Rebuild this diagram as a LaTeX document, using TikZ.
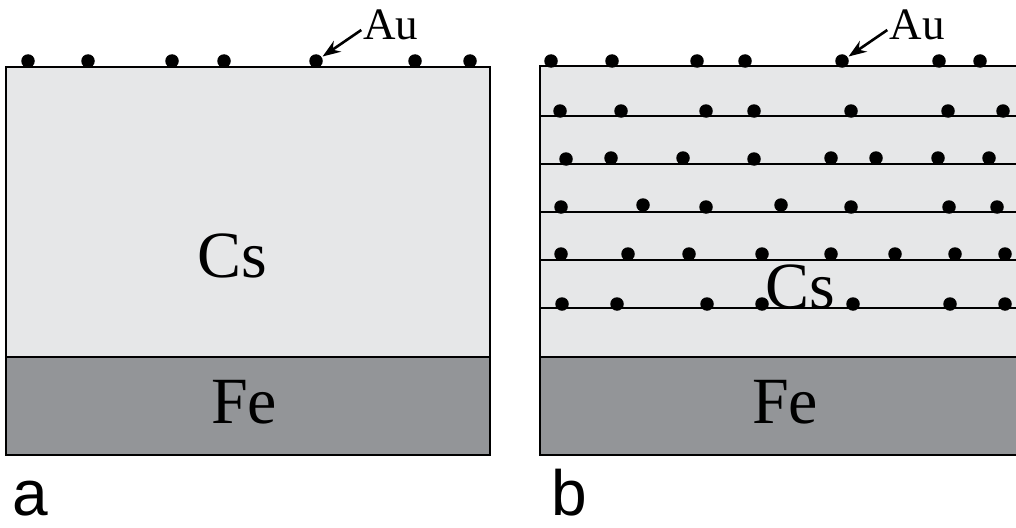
\documentclass[tikz,border=0pt]{standalone}
\usepackage{fontspec}
\setmainfont{Liberation Serif}
\setsansfont{Liberation Sans}
\usetikzlibrary{arrows.meta}
\definecolor{csgray}{RGB}{230,231,232}
\definecolor{fegray}{RGB}{147,149,152}
\begin{document}
\begin{tikzpicture}[x=1pt,y=-1pt,
  layer/.style={draw=black,line width=2pt},
  atom/.style={circle,fill=black,inner sep=0pt,minimum size=13.5pt},
  elem/.style={font=\fontsize{66}{68}\selectfont,inner sep=0pt,anchor=base},
  aulab/.style={font=\fontsize{45}{47}\selectfont,inner sep=0pt,anchor=base},
  panel/.style={font=\sffamily\fontsize{64}{66}\selectfont,inner sep=0pt,anchor=base west},
  pointer/.style={line width=2.6pt,-{Stealth[length=18pt,width=13pt]},shorten >=1pt},
  sheet/.style={line width=2pt}]
\useasboundingbox (0,0) rectangle (1016,527);
% panel a
\fill[csgray] (6,67) rectangle (490,357);
\fill[fegray] (6,357) rectangle (490,455);
\draw[layer] (6,67) rectangle (490,455);
\draw[layer] (6,357) -- (490,357);
\foreach \x [count=\i] in {28,88,172,224,316,415,470}
  \node[atom] (la\i) at (\x,61) {};
\node[elem] (csa) at (232,277) {Cs};
\node[elem] (fea) at (244,423) {Fe};
\node[aulab] (aua) at (391,40) {Au};
\draw[pointer] ([xshift=-2pt,yshift=10pt]aua.base west) -- (la5);
\node[panel] (pa) at (12,515) {a};
% panel b
\fill[csgray] (540,66) rectangle (1020,357);
\fill[fegray] (540,357) rectangle (1020,455);
\draw[layer] (1020,66) -- (540,66) -- (540,455) -- (1020,455);
\draw[layer] (540,357) -- (1020,357);
\foreach \y [count=\j] in {116,164,212,260,308}
  \draw[sheet] (540,\y) coordinate (s\j) -- (1020,\y);
\foreach \x [count=\i] in {551,612,697,745,842,939,980}
  \node[atom] (b0\i) at (\x,61) {};
\foreach \x [count=\i] in {560,621,706,754,851,948,1003}
  \node[atom] (b1\i) at (\x,111) {};
\foreach \x/\yy [count=\i] in {566/159,611/158,683/158,754/159,831/158,876/158,938/158,989/158}
  \node[atom] (b2\i) at (\x,\yy) {};
\foreach \x/\yy [count=\i] in {561/207,643/205,706/207,781/205,851/207,949/207,997/207}
  \node[atom] (b3\i) at (\x,\yy) {};
\foreach \x [count=\i] in {561,628,689,762,831,895,955,1005}
  \node[atom] (b4\i) at (\x,254) {};
\foreach \x [count=\i] in {562,617,707,762,853,950,1005}
  \node[atom] (b5\i) at (\x,304) {};
\node[elem] (csb) at (800,308) {Cs};
\node[elem] (feb) at (785,423) {Fe};
\node[aulab] (aub) at (917,40) {Au};
\draw[pointer] ([xshift=-2pt,yshift=10pt]aub.base west) -- (b05);
\node[panel] (pb) at (551,515) {b};
\end{tikzpicture}
\end{document}
